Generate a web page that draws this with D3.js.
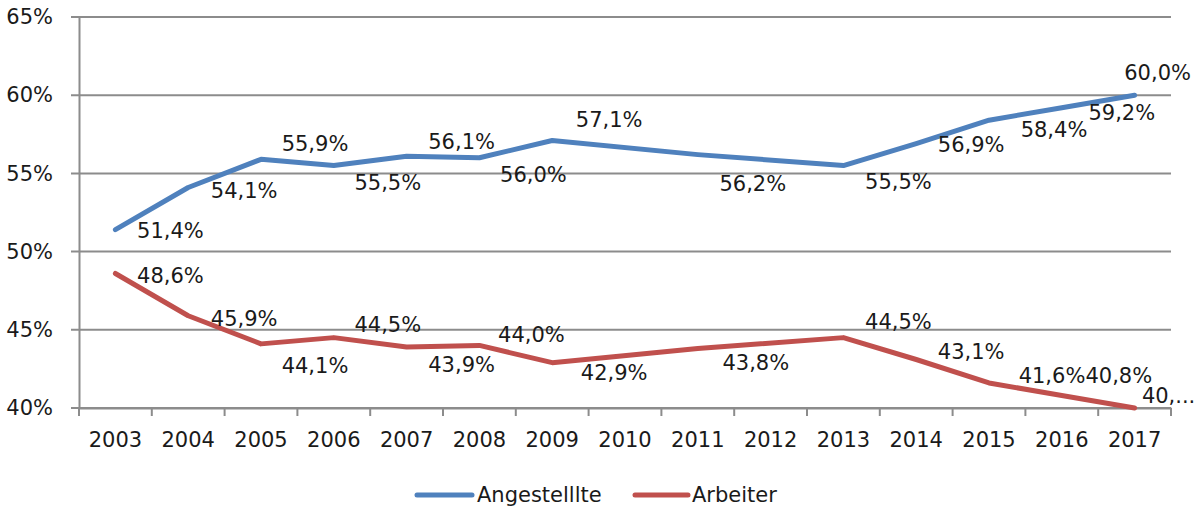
<!DOCTYPE html>
<html>
<head>
<meta charset="utf-8">
<script src="https://cdn.jsdelivr.net/npm/d3@7"></script>
<style>
  html, body { margin: 0; padding: 0; background: #fff; }
  svg { display: block; }
  text { font-family: "DejaVu Sans", sans-serif; fill: #1a1a1a; }
</style>
</head>
<body>
<svg id="chart" width="1204" height="509"></svg>
<script>
// ---- data ----
const years = ["2003","2004","2005","2006","2007","2008","2009","2010","2011","2012","2013","2014","2015","2016","2017"];
const angestellte = [51.4, 54.1, 55.9, 55.5, 56.1, 56.0, 57.1, null, 56.2, null, 55.5, 56.9, 58.4, 59.2, 60.0];
const arbeiter    = [48.6, 45.9, 44.1, 44.5, 43.9, 44.0, 42.9, null, 43.8, null, 44.5, 43.1, 41.6, 40.8, 40.0];
const yTicks = [40, 45, 50, 55, 60, 65];
const seriesNames = ["Angestelllte", "Arbeiter"];

// ---- label placement (style: pixel offsets of label centre from point) ----
const angOffsets = [[55,1],[56,4],[54,-15],[54,17],[55,-14],[54,17],[57,-21],null,[55,29],null,[55,16],[55,1],[65,10],[60,5],[23,-22]];
const arbOffsets = [[55,3],[56,3],[54,22],[54,-13],[55,18],[52,-10],[62,10],null,[58,14],null,[55,-16],[55,-8],[63,-7],[57,-19],[34,-12]];
const truncatedLabel = { series: 1, index: 14, text: "40,..." };

const colors = ["#4F81BD", "#C0504D"];
const FS = 21;

const svg = d3.select("#chart");
const pLeft = 79, pRight = 1171, pTop = 17, pBottom = 408;

const x = d3.scaleBand().domain(years).range([pLeft, pRight]).paddingInner(0).paddingOuter(0);
const y = d3.scaleLinear().domain([40, 65]).range([pBottom, pTop]);
const cx = yr => x(yr) + x.bandwidth() / 2;

// gridlines
svg.append("g").selectAll("line").data(yTicks).join("line")
  .attr("x1", pLeft - 8).attr("x2", pRight)
  .attr("y1", d => y(d)).attr("y2", d => y(d))
  .attr("stroke", "#8c8c8c").attr("stroke-width", 2);

// y axis
const yAxis = d3.axisLeft(y).tickValues(yTicks).tickSize(0).tickPadding(26)
  .tickFormat(d => d + "%");
const gy = svg.append("g").attr("transform", `translate(${pLeft},0)`).call(yAxis);
gy.select(".domain").attr("stroke", "#8c8c8c").attr("stroke-width", 2);
gy.selectAll("text").attr("font-size", FS).attr("fill", "#1a1a1a")
  .attr("font-family", "DejaVu Sans");

// x axis
const xAxis = d3.axisBottom(x).tickSize(0).tickPadding(24);
const gx = svg.append("g").attr("transform", `translate(0,${pBottom})`).call(xAxis);
gx.select(".domain").attr("stroke", "#8c8c8c").attr("stroke-width", 2);
gx.selectAll("text").attr("font-size", FS).attr("fill", "#1a1a1a")
  .attr("font-family", "DejaVu Sans");
// category boundary ticks
const bounds = years.map(yr => x(yr)).concat([pRight]);
svg.append("g").selectAll("line").data(bounds).join("line")
  .attr("x1", d => d).attr("x2", d => d)
  .attr("y1", pBottom).attr("y2", pBottom + 8)
  .attr("stroke", "#8c8c8c").attr("stroke-width", 2);

// lines
const series = [angestellte, arbeiter];
const offsets = [angOffsets, arbOffsets];
const line = d3.line().x(d => cx(d.year)).y(d => y(d.v));
series.forEach((vals, si) => {
  const pts = years.map((yr, i) => ({ year: yr, v: vals[i], i })).filter(d => d.v != null);
  svg.append("path").datum(pts)
    .attr("d", line)
    .attr("fill", "none")
    .attr("stroke", colors[si])
    .attr("stroke-width", 5)
    .attr("stroke-linejoin", "round")
    .attr("stroke-linecap", "round");
});

// data labels
series.forEach((vals, si) => {
  const pts = years.map((yr, i) => ({ year: yr, v: vals[i], i })).filter(d => d.v != null);
  svg.append("g").selectAll("text").data(pts).join("text")
    .attr("x", d => cx(d.year) + offsets[si][d.i][0])
    .attr("y", d => y(d.v) + offsets[si][d.i][1])
    .attr("text-anchor", "middle")
    .attr("dominant-baseline", "central")
    .attr("font-size", FS)
    .text(d => (truncatedLabel.series === si && truncatedLabel.index === d.i)
      ? truncatedLabel.text
      : d.v.toFixed(1).replace(".", ",") + "%");
});

// legend
const legendY = 495;
const legendItems = [{ x0: 417, x1: 472, tx: 477 }, { x0: 635, x1: 688, tx: 692 }];
seriesNames.forEach((name, i) => {
  const li = legendItems[i];
  svg.append("line")
    .attr("x1", li.x0).attr("x2", li.x1).attr("y1", legendY).attr("y2", legendY)
    .attr("stroke", colors[i]).attr("stroke-width", 5).attr("stroke-linecap", "round");
  svg.append("text").attr("x", li.tx).attr("y", legendY)
    .attr("dominant-baseline", "central").attr("font-size", FS).text(name);
});
</script>
</body>
</html>
